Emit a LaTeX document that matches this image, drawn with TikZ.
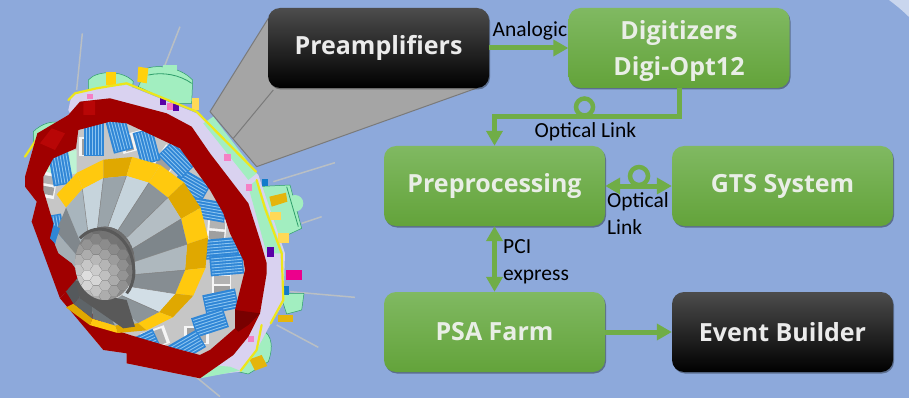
\documentclass[tikz,border=0pt]{standalone}
\usepackage{fontspec}
\setmainfont{Open Sans}
\newfontfamily\lblfont{Carlito}
\usetikzlibrary{arrows.meta,shadows,calc}
\definecolor{bgblue}{HTML}{8DA9DB}
\definecolor{bglight}{HTML}{C9D6EE}
\definecolor{linkgreen}{HTML}{70AD47}
\definecolor{boxtop}{HTML}{80B962}
\definecolor{boxmid}{HTML}{70B045}
\definecolor{boxbot}{HTML}{63A33A}
\definecolor{boxtxt}{HTML}{E9EEE6}
\definecolor{redring}{HTML}{A00000}
\definecolor{redlight}{HTML}{B80606}
\definecolor{mint}{HTML}{A2EEC0}
\definecolor{mintdk}{HTML}{2E9E6A}
\definecolor{rimy}{HTML}{EDE61A}
\definecolor{lav}{HTML}{D9D2F0}
\definecolor{funnel}{HTML}{A5A5A5}
\definecolor{funneld}{HTML}{7A7A7A}
\definecolor{gold}{HTML}{FFC90E}
\definecolor{golddk}{HTML}{E0A800}
\definecolor{bluemod}{HTML}{2F86D6}
\definecolor{bluelt}{HTML}{8CC4F0}
\definecolor{rodc}{HTML}{B9BFC4}
\tikzset{
 boxbase/.style={rounded corners=12pt,minimum width=221pt,minimum height=80pt,inner sep=0pt,align=center,
   font=\fontsize{25}{36}\selectfont\bfseries,text=boxtxt,
   drop shadow={shadow xshift=1pt,shadow yshift=-1.5pt,opacity=.35,fill=black}},
 greenbox/.style={boxbase,top color=boxtop,middle color=boxmid,bottom color=boxbot},
 blackbox/.style={boxbase,top color=black!70,middle color=black,bottom color=black,text=white!92!black},
 linkline/.style={draw=linkgreen,line width=5pt},
 linkarrow/.style={linkline,-{Triangle[length=15pt,width=16pt]}},
 linkboth/.style={linkline,{Triangle[length=15pt,width=16pt]}-{Triangle[length=15pt,width=16pt]}},
 looparc/.style={draw=linkgreen,line width=4.5pt},
 lbl/.style={font=\lblfont\fontsize{21.5}{27}\selectfont,text=black,inner sep=0pt,align=left},
 rod/.style={draw=rodc,line width=1.5pt},
 rim/.style={draw=rimy,line width=2.2pt,line join=round,line cap=round},
 cyl/.style={fill=mint,draw=mintdk,line width=.5pt},
}
% one blue cable bundle: #1 x, #2 y, #3 angle
\newcommand{\cablepack}[3]{%
 \begin{scope}[shift={(#1,#2)},rotate=#3]
  \fill[bluemod] (-50,-30) rectangle (50,30);
  \foreach \yy in {-22,-13,-4,5,14,23}{\draw[bluelt,line width=.9pt] (-46,\yy) -- (46,\yy);}
 \end{scope}}
% one grey electronics block
\newcommand{\elecpack}[3]{%
 \begin{scope}[shift={(#1,#2)},rotate=#3]
  \fill[white!92!gray] (-38,-28) rectangle (38,28);
  \fill[gray!75] (-28,-22) rectangle (-4,24);
  \fill[gray!60] (4,-22) rectangle (28,24);
 \end{scope}}
\begin{document}
\begin{tikzpicture}[x=1pt,y=-1pt]
\useasboundingbox (0,0) rectangle (909,398);
\fill[bgblue] (0,0) rectangle (909,398);
\fill[bglight] (889,0) .. controls (897,6) and (903,11) .. (909,17) -- (909,0) -- cycle;

% ---------- detector, in zoomed coordinates ----------
\begin{scope}[x=0.33333pt,y=-0.33333pt,line join=round]
 % rods
 \draw[rod] (230,270) -- (247,100);
 \draw[rod] (495,195) -- (540,80);
 \draw[rod] (820,545) -- (1005,488);
 \draw[rod] (905,670) -- (965,650);
 \draw[rod] (870,875) -- (1065,892);
 \draw[rod] (830,975) -- (955,1042);
 \draw[rod] (575,1120) -- (660,1190);
 % grey funnel to the preamplifiers
 \fill[funnel] (805,55) -- (630,335) -- (770,500) -- (1431,264) -- (1431,150) -- (805,150) -- cycle;
 \draw[funneld,line width=1pt] (805,55) -- (630,335) -- (770,500) -- (1431,264);
 \draw[funneld,line width=1pt] (820,270) -- (700,415);
 % mint cylinders
 \fill[cyl] (265,240) .. controls (290,210) and (370,210) .. (400,245) -- (390,300) -- (265,300) -- cycle;
 \fill[cyl] (440,205) .. controls (490,190) and (550,210) .. (578,240) -- (575,310) -- (520,310) -- (415,260) -- cycle;
 \fill[mint] (490,195) rectangle (530,215);
 \draw[mintdk,line width=.8pt] (445,225) .. controls (490,215) and (540,225) .. (575,250);
 \fill[cyl] (770,560) -- (870,555) -- (905,685) -- (820,725) -- (790,690) -- cycle;
 \fill[mint] (885,610) circle (25);
 \draw[mintdk,line width=.8pt] (860,560) -- (895,680);
 \fill[cyl] (840,880) -- (912,880) -- (905,930) -- (860,942) -- cycle;
 \fill[cyl] (770,985) .. controls (810,990) and (825,1030) .. (805,1085) -- (745,1122) -- (700,1112) -- cycle;
 \fill[cyl] (100,395) .. controls (125,370) and (160,360) .. (185,370) -- (150,420) -- (100,440) -- cycle;
 % lavender and mint bands behind the ring
 \fill[lav] (205,330) -- (215,285) -- (290,265) -- (380,255) -- (590,340) -- (775,525) -- (855,760) -- (850,910) -- (810,975) -- (775,1040) -- (720,1115) -- (600,1130) -- (460,1105) -- (400,1080) -- (500,900) -- cycle;
 \fill[mint] (640,350) -- (770,520) -- (745,540) -- (610,370) -- cycle;
 \fill[mint] (770,540) -- (850,760) -- (800,760) -- (745,560) -- cycle;
 \fill[mint] (470,1105) -- (600,1135) -- (720,1112) -- (690,1100) -- (560,1090) -- cycle;
 % yellow studs
 \fill[gold!85!yellow] (318,215) rectangle (348,255);
 \fill[gold!85!yellow] (415,200) -- (445,205) -- (440,250) -- (412,245) -- cycle;
 \fill[gold!70!white] (575,295) rectangle (598,330);
 \fill[gold!70!white] (810,635) rectangle (842,660);
 \fill[gold!90!black] (808,590) -- (858,578) -- (862,605) -- (815,620) -- cycle;
 \fill[gold!70!white] (835,700) rectangle (868,728);
 \fill[gold!90!black] (835,945) rectangle (878,965);
 \fill[gold!90!black] (748,1078) -- (785,1065) -- (802,1098) -- (765,1112) -- cycle;
 % magenta and blue details
 \fill[magenta] (858,810) rectangle (905,840);
 \fill[violet!70!blue] (480,295) rectangle (498,315);
 \fill[violet!70!blue] (518,312) rectangle (538,332);
 \fill[magenta!55] (500,310) rectangle (518,330);
 \fill[magenta!50] (672,462) rectangle (692,482);
 \fill[magenta!50] (262,282) rectangle (278,298);
 \fill[magenta!50] (738,552) rectangle (756,572);
 \fill[magenta!50] (745,1008) rectangle (762,1025);
 \fill[violet!70!blue] (802,740) rectangle (822,770);
 \fill[cyan!60!blue] (850,858) rectangle (866,885);
 \fill[cyan!60!blue] (785,538) rectangle (805,558);
 % yellow rims
 \draw[rim] (205,300) -- (225,280) -- (290,265) -- (380,250) -- (590,335) -- (768,515);
 \draw[rim] (770,540) -- (795,625) -- (845,760) -- (850,900) -- (812,970);
 \draw[rim] (785,975) -- (770,1050) -- (722,1112);
 \draw[rim] (75,470) -- (115,410);
 % contents of the hole, kept inside the ring's outline
 \begin{scope}
  \clip (205,345) -- (240,305) -- (330,295) -- (500,340) -- (575,380) -- (630,460) -- (745,610) -- (780,720) -- (800,790) -- (800,820) -- (780,940) -- (745,1010) -- (700,1065) -- (600,1135) -- (380,1090) -- (380,1060) -- (310,1050) -- (180,895) -- (240,825) -- (95,665) -- (110,605) -- (75,560) -- (75,530) -- (112,400) -- cycle;
  \fill[gray!45] (70,290) rectangle (810,1140);
  \fill[mint!70!white] (130,470) -- (230,450) -- (230,520) -- (130,540) -- cycle;
  \elecpack{275}{440}{0}
  \elecpack{400}{425}{15}
  \elecpack{500}{480}{55}
  \elecpack{650}{690}{85}
  \elecpack{665}{855}{90}
  \elecpack{590}{1005}{0}
  \elecpack{465}{1015}{20}
  \elecpack{280}{945}{35}
  \elecpack{140}{555}{80}
  \cablepack{282}{418}{90}
  \cablepack{440}{440}{105}
  \cablepack{575}{555}{-30}
  \cablepack{628}{630}{-10}
  \cablepack{665}{745}{5}
  \cablepack{680}{795}{5}
  \cablepack{662}{905}{12}
  \cablepack{630}{968}{18}
  \cablepack{182}{505}{100}
  \cablepack{162}{695}{100}
  \cablepack{358}{405}{105}
  \cablepack{425}{1035}{25}
  \cablepack{560}{1040}{30}
  \cablepack{530}{480}{-45}
 \end{scope}
 % red ring with its hole
 \fill[redring,even odd rule]
  (205,345) -- (240,305) -- (330,295) -- (500,340) -- (575,380) -- (630,460) -- (745,610) -- (780,720) -- (800,790) -- (800,820) -- (780,940) -- (745,1010) -- (700,1065) -- (600,1135) -- (380,1090) -- (380,1060) -- (310,1050) -- (180,895) -- (240,825) -- (95,665) -- (110,605) -- (75,560) -- (75,530) -- (112,400) -- cycle
  (235,390) -- (330,365) -- (380,370) -- (540,445) -- (630,570) -- (670,640) -- (690,700) -- (730,780) -- (735,810) -- (705,930) -- (705,985) -- (630,1050) -- (600,1065) -- (525,1045) -- (390,1005) -- (330,985) -- (240,910) -- (225,840) -- (215,790) -- (175,760) -- (155,710) -- (160,670) -- (130,570) -- (130,530) -- (160,475) -- (228,445) -- cycle;
 \fill[redlight] (250,305) -- (285,302) -- (285,345) -- (250,345) -- cycle;
 \fill[redlight] (120,430) -- (155,385) -- (195,400) -- (165,450) -- cycle;
 \fill[black!25!redring] (705,930) -- (780,940) -- (745,975) -- (715,995) -- (705,985) -- cycle;
 % yellow ring of the crystal capsules
 \foreach \a/\c in {-125/gold,-105/golddk,-85/gold,-65/gold,-45/golddk,-25/gold,-5/golddk,15/gold,35/golddk,55/gold,75/golddk,95/gold,115/golddk,-145/gold}{
  \pgfmathsetmacro\b{\a+20}
  \fill[\c] ({362+200*cos(\a)},{752+225*sin(\a)}) -- ({375+250*cos(\a)},{735+265*sin(\a)}) -- ({375+250*cos(\b)},{735+265*sin(\b)}) -- ({362+200*cos(\b)},{752+225*sin(\b)}) -- cycle;
 }
 % grey wedges
 \foreach \a/\c in {-145/A8B5BD,-125/C6D4DC,-105/9AA4AA,-85/C6D4DC,-65/8C9499,-45/B4BEC4,-25/7E868B,-5/AEB8BE,15/868D92,35/D2DEE6,55/8C9499,75/A4AEB4,95/6F767A,115/5E6468,135/55595C,155/70767A,175/A4AEB4,195/80878C}{
  \pgfmathsetmacro\b{\a+20}
  \definecolor{wedgec}{HTML}{\c}
  \fill[wedgec] ({315+88*cos(\a)},{795+112*sin(\a)}) -- ({362+200*cos(\a)},{752+225*sin(\a)}) -- ({362+200*cos(\b)},{752+225*sin(\b)}) -- ({315+88*cos(\b)},{795+112*sin(\b)}) -- cycle;
 }
 \foreach \a in {-125,-105,-85,-65,-45,-25,-5,15,35,55}{
  \draw[black!50,line width=.5pt] ({315+88*cos(\a)},{795+112*sin(\a)}) -- ({362+200*cos(\a)},{752+225*sin(\a)});
 }
 % dark lower-left and red notch
 \fill[black!65] (225,840) -- (270,880) -- (380,900) -- (405,980) -- (370,985) -- (240,895) -- cycle;
 \fill[redring] (160,670) -- (155,710) -- (175,760) -- (215,790) -- (240,825) -- (180,895) -- (95,665) -- cycle;
 \fill[bluemod] (160,675) -- (180,685) -- (165,730) -- (150,715) -- cycle;
 % ball of hexagonal crystals
 \begin{scope}
  \clip (315,790) ellipse [x radius=90,y radius=110];
  \fill[black!55] (315,790) ellipse [x radius=90,y radius=110];
  \foreach \ix in {-4,...,4}{
   \foreach \iy in {-5,...,5}{
    \pgfmathsetmacro\hx{315+\ix*27}
    \pgfmathsetmacro\hy{795+\iy*31+mod(abs(\ix),2)*15.5}
    \pgfmathsetmacro\dd{veclen(\hx-268,\hy-835)}
    \pgfmathsetmacro\sh{int(min(58,10+\dd*0.32))}
    \fill[black!\sh] ({\hx-18},\hy) -- ({\hx-8},{\hy-15}) -- ({\hx+8},{\hy-15}) -- ({\hx+18},\hy) -- ({\hx+8},{\hy+15}) -- ({\hx-8},{\hy+15}) -- cycle;
   }
  }
 \end{scope}
 \draw[black!65,line width=3pt] (240,715) .. controls (280,670) and (350,680) .. (385,745) .. controls (410,800) and (405,850) .. (380,880);
\end{scope}

% ---------- boxes ----------
\node[blackbox] (pre) at (378.5,48) {Preamplifiers};
\node[greenbox] (dig) at (679,48) {\rule{0pt}{25pt}Digitizers\\Digi-Opt12};
\node[greenbox] (ppr) at (494.5,186) {Preprocessing};
\node[greenbox] (gts) at (782.5,186) {GTS System};
\node[greenbox] (psa) at (494.5,332) {PSA Farm};
\node[blackbox] (evb) at (782.5,332) {Event Builder};

% ---------- connectors ----------
\draw[linkarrow] (pre.east) -- (dig.west);
\draw[linkarrow] (dig.south) -- ++(0,28) -| (ppr.north);
\draw[linkboth] (ppr.east) -- (gts.west);
\draw[linkboth] (ppr.south) -- (psa.north);
\draw[linkarrow] (psa.east) -- (evb.west);
\coordinate (l1) at (584.5,107);
\coordinate (l2) at (639,176);
\draw[looparc] (l1) circle [radius=8.5];
\draw[looparc] (l2) circle [radius=9];

% ---------- labels ----------
\node[lbl,anchor=west] (t1) at (492.5,31) {Analogic};
\node[lbl,anchor=west] (t2) at (534.5,132) {Optical Link};
\node[lbl,anchor=north west] (t3) at (607,192) {Optical\\Link};
\node[lbl,anchor=north west] (t4) at (503,239) {PCI\\express};
\end{tikzpicture}
\end{document}
